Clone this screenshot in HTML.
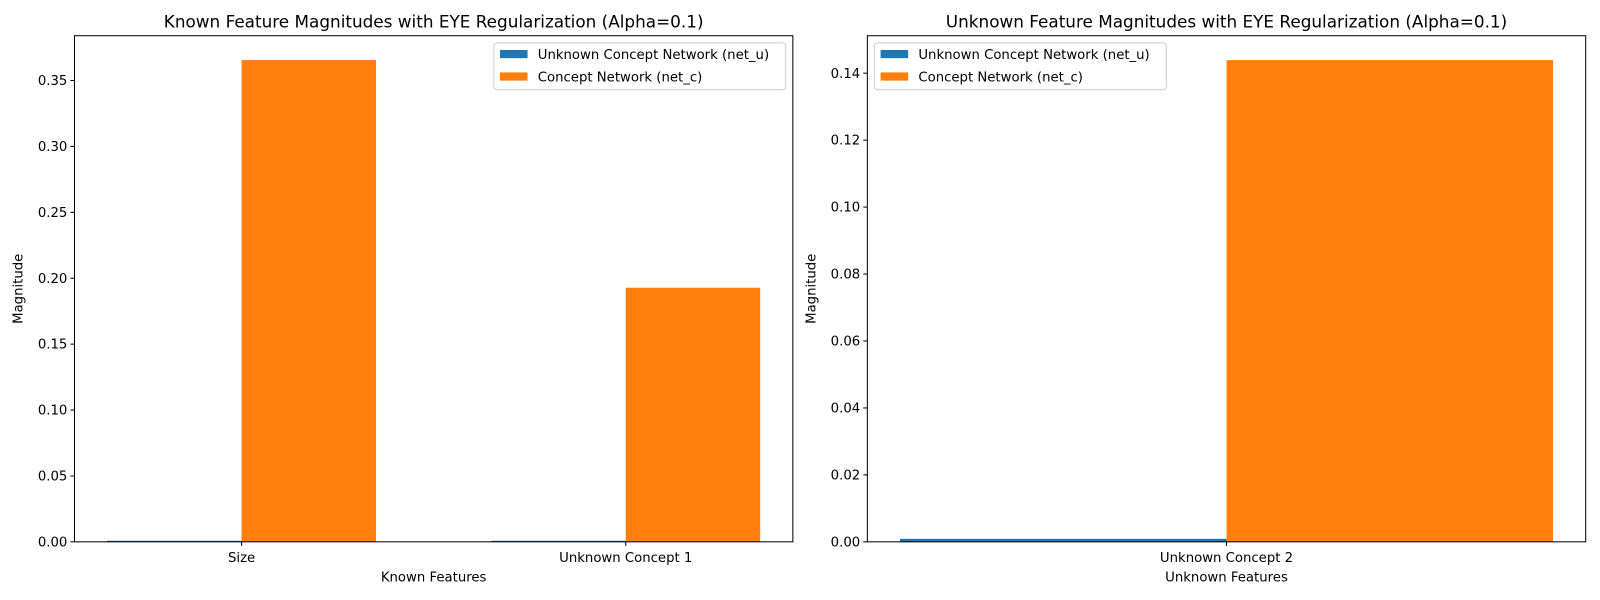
<!DOCTYPE html>
<html><head><meta charset="utf-8"><style>
body{margin:0;background:#fff}
svg{display:block;font-family:"DejaVu Sans","Liberation Sans",sans-serif}
</style></head><body>
<svg id="chart" width="1600" height="600" xmlns="http://www.w3.org/2000/svg"><g id="root" transform="scale(1.0204)"></g></svg>
<script>
const leftCategories = ["Size", "Unknown Concept 1"];
const leftNetU = [0.0008, 0.0008];
const leftNetC = [0.3655, 0.1928];
const leftTicks = [0, 0.05, 0.10, 0.15, 0.20, 0.25, 0.30, 0.35];
const rightCategories = ["Unknown Concept 2"];
const rightNetU = [0.0009];
const rightNetC = [0.1439];
const rightTicks = [0, 0.02, 0.04, 0.06, 0.08, 0.10, 0.12, 0.14];
const seriesNames = ["Unknown Concept Network (net_u)", "Concept Network (net_c)"];
const colors = ["#1f77b4", "#ff7f0e"];

const svg = document.getElementById('root');
const NS = "http://www.w3.org/2000/svg";
function mk(tag, attrs, parent, text){
  const e = document.createElementNS(NS, tag);
  for (const k in attrs) e.setAttribute(k, attrs[k]);
  if (text !== undefined) e.textContent = text;
  (parent || svg).appendChild(e);
  return e;
}

function panel(px, cats, u, c, ticks, ymax, title, xlabel, name){
  const L = px, R = px + 704, T = 35, B = 531;
  const g = mk('g', {});
  
  
  const w = 0.35;
  const span = (cats.length - 1) + 2 * w;
  const lo = -w - 0.05 * span, hi = (cats.length - 1) + w + 0.05 * span;
  const xs = v => L + (v - lo) / (hi - lo) * (R - L);
  const ys = v => B - v / ymax * (B - T);
  cats.forEach((cat, i) => {
    const bu = mk('rect', {x: xs(i - w), y: ys(u[i]), width: xs(i) - xs(i - w), height: B - ys(u[i]), fill: colors[0]}, g);
    
    
    const bc = mk('rect', {x: xs(i), y: ys(c[i]), width: xs(i + w) - xs(i), height: B - ys(c[i]), fill: colors[1]}, g);
    
    
    mk('line', {x1: xs(i), x2: xs(i), y1: B, y2: B + 4, stroke: '#000'}, g);
    const t = mk('text', {x: xs(i), y: B + 20, 'text-anchor': 'middle', 'font-size': 13}, g, cat);
    
    
  });
  ticks.forEach(v => {
    mk('line', {x1: L - 4, x2: L, y1: ys(v), y2: ys(v), stroke: '#000'}, g);
    const t = mk('text', {x: L - 7, y: ys(v) + 4.5, 'text-anchor': 'end', 'font-size': 13}, g, v.toFixed(2));
    
    
  });
  mk('rect', {x: L, y: T, width: R - L, height: B - T, fill: 'none', stroke: '#000', 'stroke-width': 1}, g);
  const tt = mk('text', {x: (L + R) / 2, y: 27, 'text-anchor': 'middle', 'font-size': 16.5}, g, title);
  
  
  const xl = mk('text', {x: (L + R) / 2, y: 570, 'text-anchor': 'middle', 'font-size': 13}, g, xlabel);
  
  
  const yl = mk('text', {x: 0, y: 0, 'text-anchor': 'middle', 'font-size': 13, transform: `translate(${L - 51},${(T + B) / 2}) rotate(-90)`}, g, 'Magnitude');
  
  
  return g;
}

panel(73, leftCategories, leftNetU, leftNetC, leftTicks, 0.384, "Known Feature Magnitudes with EYE Regularization (Alpha=0.1)", "Known Features", "left-panel");
panel(850, rightCategories, rightNetU, rightNetC, rightTicks, 0.1512, "Unknown Feature Magnitudes with EYE Regularization (Alpha=0.1)", "Unknown Features", "right-panel");

function legend(x){
  const g = mk('g', {});
  
  
  mk('rect', {x: x, y: 42, width: 286, height: 46, rx: 3, fill: '#fff', 'fill-opacity': 0.8, stroke: '#ccc'}, g);
  seriesNames.forEach((s, i) => {
    const sw = mk('rect', {x: x + 6, y: 49 + i * 22, width: 27, height: 8, fill: colors[i]}, g);
    
    
    const t = mk('text', {x: x + 43, y: 58 + i * 22, 'font-size': 13}, g, s);
    
    
  });
}
legend(484);
legend(857);
</script>
</body></html>
